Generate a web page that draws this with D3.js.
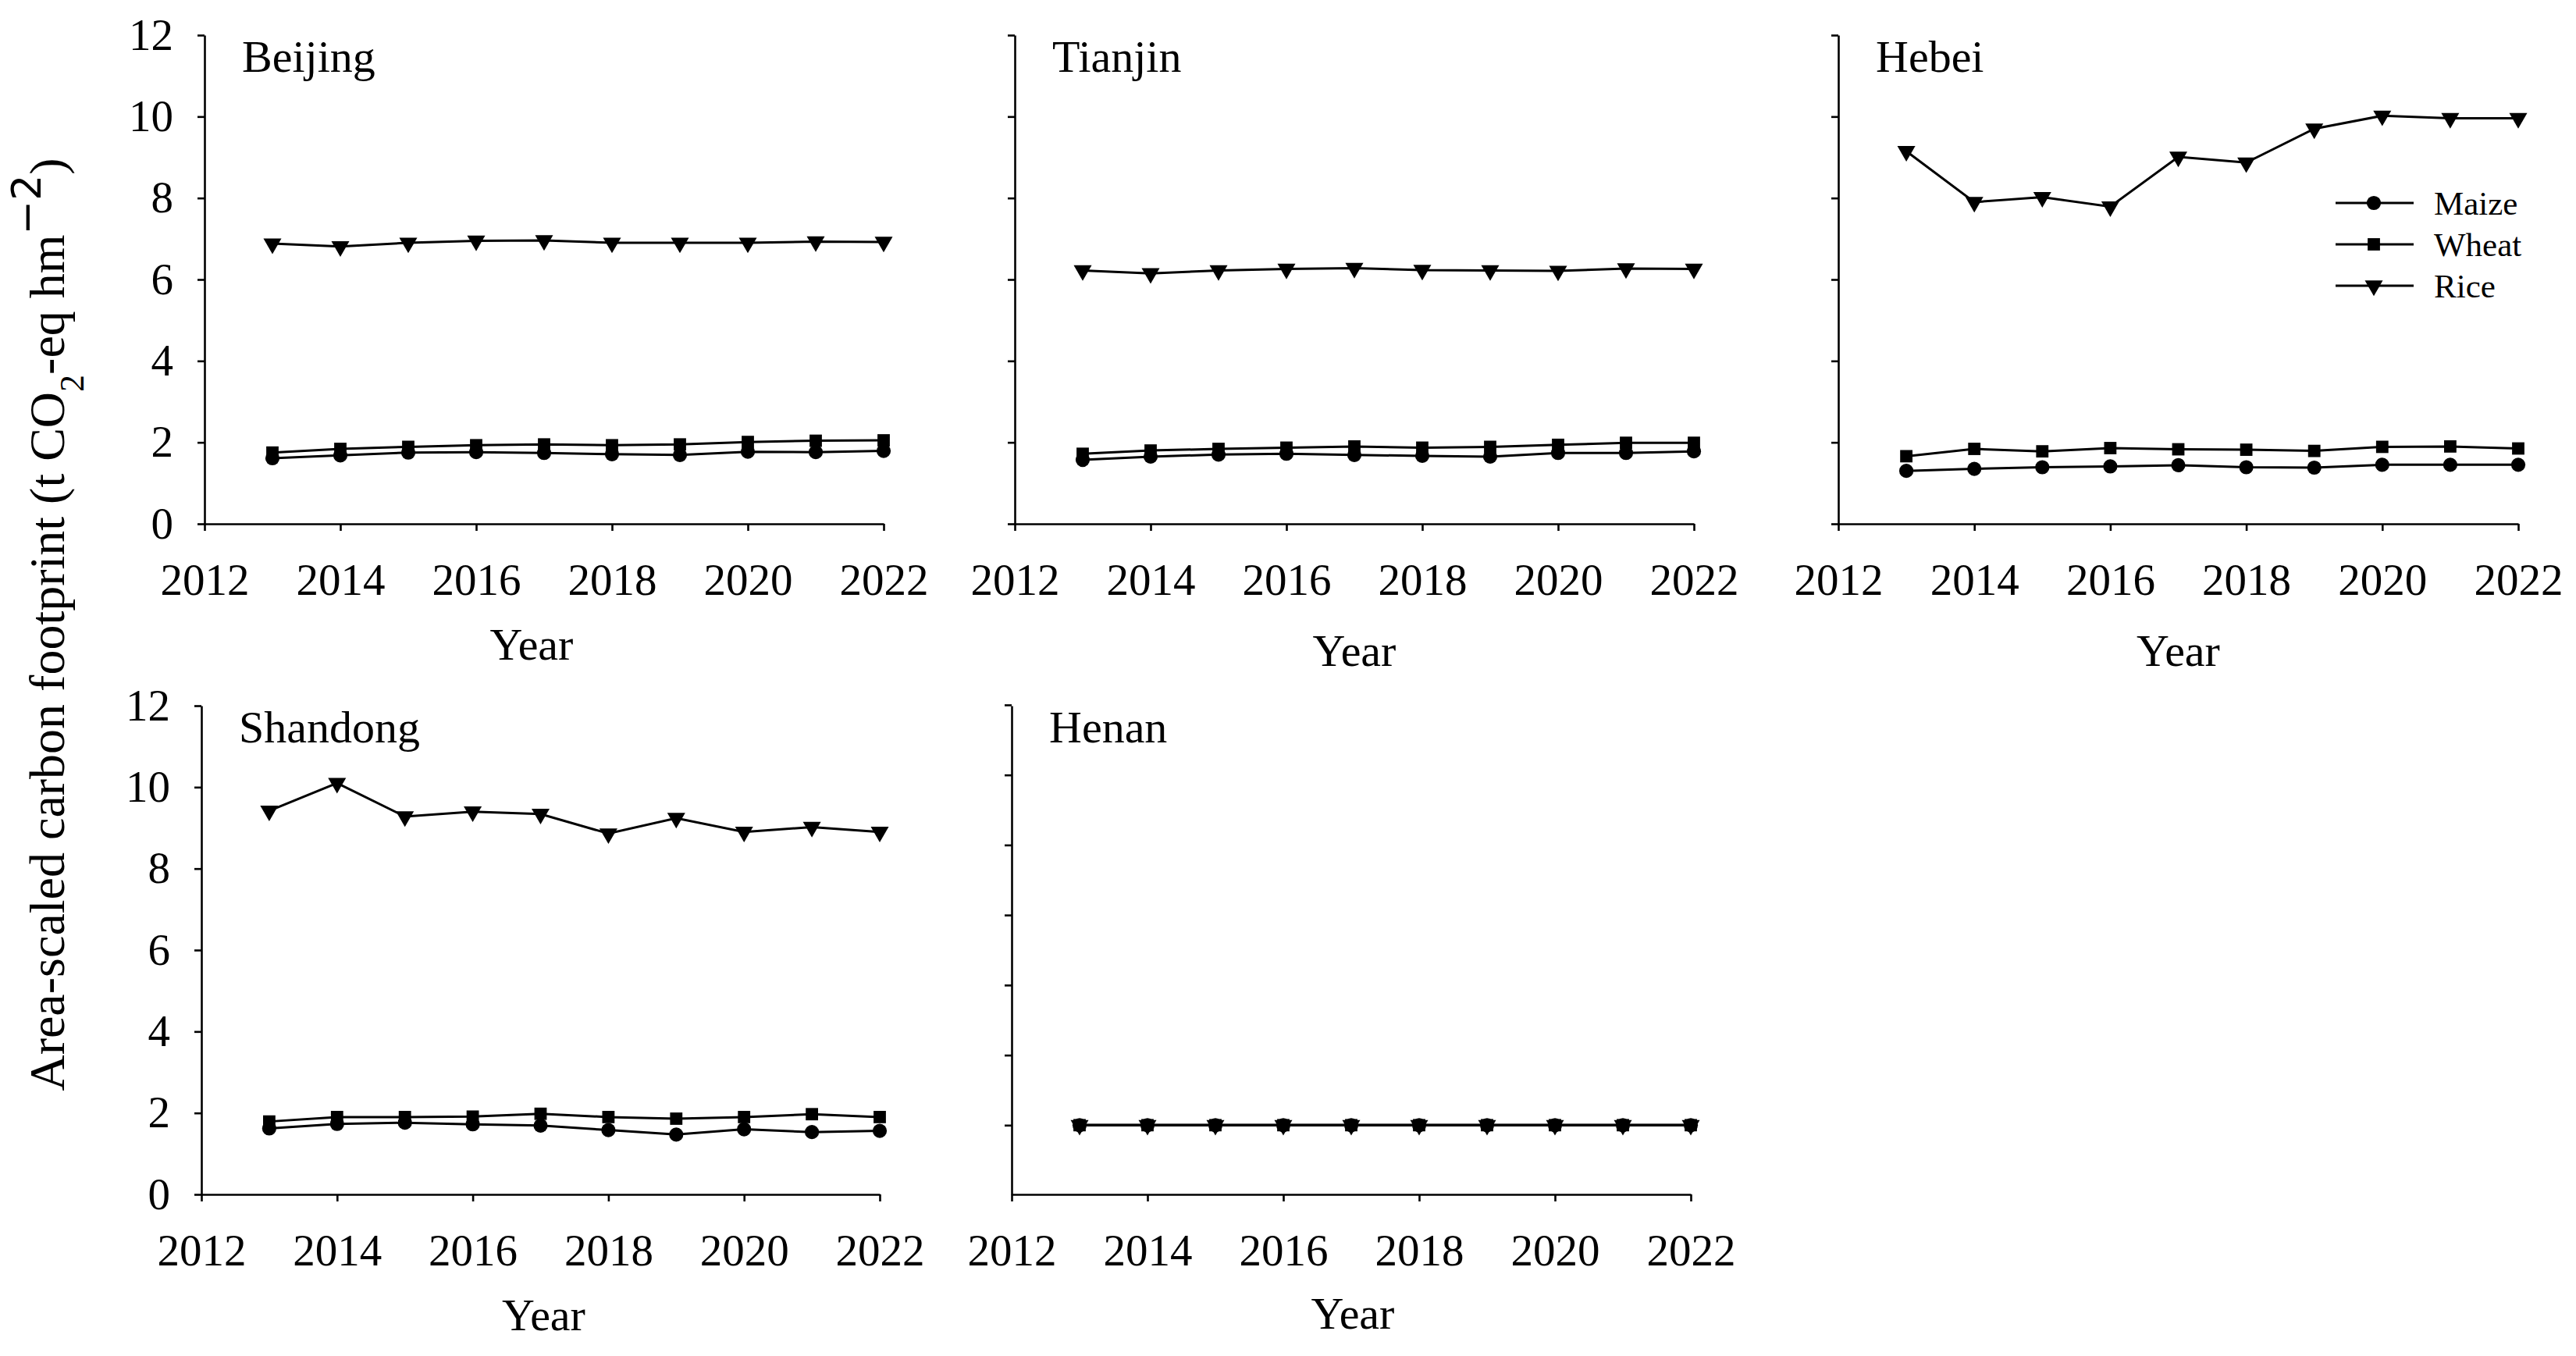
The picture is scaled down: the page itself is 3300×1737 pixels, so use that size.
<!DOCTYPE html>
<html>
<head>
<meta charset="utf-8">
<script src="https://cdn.jsdelivr.net/npm/d3@7"></script>
<style>
  body { margin: 0; background: #fff; }
  svg text { font-family: "Liberation Serif", "Times New Roman", serif; fill: #000; }
</style>
</head>
<body>
<svg id="chart"></svg>
<script>
// data
const years = [2013, 2014, 2015, 2016, 2017, 2018, 2019, 2020, 2021, 2022];
const crops = ["Maize", "Wheat", "Rice"];
const xTicks = [2012, 2014, 2016, 2018, 2020, 2022];
const yTicks = [0, 2, 4, 6, 8, 10, 12];
const henanTicks = [1.7, 3.42, 5.14, 6.86, 8.58, 10.3, 12.02];

const beijingMaize = [1.61, 1.68, 1.75, 1.76, 1.74, 1.71, 1.69, 1.77, 1.76, 1.79];
const beijingWheat = [1.75, 1.84, 1.89, 1.93, 1.95, 1.93, 1.95, 2.01, 2.04, 2.05];
const beijingRice = [6.88, 6.81, 6.90, 6.95, 6.96, 6.90, 6.90, 6.90, 6.93, 6.92];

const tianjinMaize = [1.57, 1.65, 1.70, 1.72, 1.69, 1.67, 1.65, 1.74, 1.74, 1.78];
const tianjinWheat = [1.72, 1.80, 1.84, 1.87, 1.90, 1.87, 1.89, 1.94, 1.99, 1.99];
const tianjinRice = [6.22, 6.15, 6.22, 6.26, 6.28, 6.23, 6.22, 6.21, 6.27, 6.26];

const hebeiMaize = [1.30, 1.35, 1.39, 1.41, 1.44, 1.39, 1.38, 1.45, 1.45, 1.45];
const hebeiWheat = [1.66, 1.84, 1.78, 1.86, 1.83, 1.82, 1.79, 1.89, 1.90, 1.85];
const hebeiRice = [9.15, 7.90, 8.02, 7.79, 9.01, 8.87, 9.70, 10.02, 9.96, 9.96];

const shandongMaize = [1.62, 1.73, 1.76, 1.72, 1.69, 1.58, 1.47, 1.60, 1.53, 1.56];
const shandongWheat = [1.79, 1.90, 1.90, 1.91, 1.98, 1.90, 1.86, 1.90, 1.97, 1.90];
const shandongRice = [9.42, 10.10, 9.28, 9.40, 9.34, 8.86, 9.24, 8.90, 9.02, 8.90];

const henanMaize = [1.70, 1.70, 1.70, 1.70, 1.70, 1.70, 1.70, 1.70, 1.70, 1.70];
const henanWheat = [1.70, 1.70, 1.70, 1.70, 1.70, 1.70, 1.70, 1.70, 1.70, 1.70];
const henanRice = [1.70, 1.70, 1.70, 1.70, 1.70, 1.70, 1.70, 1.70, 1.70, 1.70];

const W = 3300, H = 1737;
const FONT = "'Liberation Serif', 'Times New Roman', serif";
const svg = d3.select("#chart").attr("width", W).attr("height", H);

// panel frames
const panels = [
  { name: "Beijing",  series: [beijingMaize, beijingWheat, beijingRice],   x0: 262,  x1: 1132, top: 45,  bottom: 671,  yLabels: true,  ticks: yTicks, yearDx: -16, yearDy: 174 },
  { name: "Tianjin",  series: [tianjinMaize, tianjinWheat, tianjinRice],   x0: 1300, x1: 2170, top: 45,  bottom: 671,  yLabels: false, ticks: yTicks, yearDx: 0,   yearDy: 182 },
  { name: "Hebei",    series: [hebeiMaize, hebeiWheat, hebeiRice],         x0: 2355, x1: 3226, top: 45,  bottom: 671,  yLabels: false, ticks: yTicks, yearDx: 0,   yearDy: 182, legend: true },
  { name: "Shandong", series: [shandongMaize, shandongWheat, shandongRice], x0: 258, x1: 1127, top: 904, bottom: 1530, yLabels: true,  ticks: yTicks, yearDx: 4,   yearDy: 174 },
  { name: "Henan",    series: [henanMaize, henanWheat, henanRice],         x0: 1296, x1: 2166, top: 904, bottom: 1530, yLabels: false, ticks: henanTicks, yearDx: 2, yearDy: 172 }
];

const symbols = [d3.symbolCircle, d3.symbolSquare, d3.symbolTriangle];
const symbolSize = [260, 250, 230];

const drawMarker = (g, i, x, y) => {
  g.append("path")
    .attr("d", d3.symbol().type(symbols[i]).size(symbolSize[i]))
    .attr("transform", `translate(${x},${y})` + (i === 2 ? " rotate(180)" : ""))
    .attr("fill", "#000");
};

const serifText = (a) => {
  a.attr("font-family", null);
  a.selectAll("text").style("font-family", FONT).attr("font-size", 57).style("fill", "#000");
};

panels.forEach((p) => {
  const g = svg.append("g");
  const x = d3.scaleLinear().domain([2012, 2022]).range([p.x0, p.x1]);
  const y = d3.scaleLinear().domain([0, 12]).range([p.bottom, p.top]);

  const yAxis = d3.axisLeft(y).tickValues(p.ticks).tickSize(9).tickSizeOuter(0).tickPadding(31);
  if (!p.yLabels) yAxis.tickFormat("");
  g.append("g")
    .attr("transform", `translate(${p.x0},0)`)
    .call(yAxis)
    .call(serifText);

  g.append("g")
    .attr("transform", `translate(0,${p.bottom})`)
    .call(d3.axisBottom(x).tickValues(xTicks).tickFormat(d3.format("d")).tickSize(9).tickSizeOuter(0).tickPadding(42))
    .call(serifText);

  g.selectAll(".domain, .tick line").attr("stroke", "#000").attr("stroke-width", 2.6);

  const line = d3.line().x((d, i) => x(years[i])).y((d) => y(d));
  p.series.forEach((vals) => {
    g.append("path").datum(vals)
      .attr("d", line).attr("fill", "none")
      .attr("stroke", "#000").attr("stroke-width", 3);
  });
  p.series.forEach((vals, si) => {
    vals.forEach((v, i) => drawMarker(g, si, x(years[i]), y(v)));
  });

  g.append("text")
    .attr("x", p.x0 + 48).attr("y", p.top + 47)
    .attr("font-size", 58)
    .text(p.name);

  g.append("text")
    .attr("x", (p.x0 + p.x1) / 2 + p.yearDx).attr("y", p.bottom + p.yearDy)
    .attr("text-anchor", "middle").attr("font-size", 58)
    .text("Year");

  if (p.legend) {
    const lg = g.append("g");
    crops.forEach((c, i) => {
      const ly = 260 + i * 53;
      lg.append("line").attr("x1", 2992).attr("x2", 3092).attr("y1", ly).attr("y2", ly)
        .attr("stroke", "#000").attr("stroke-width", 3);
      drawMarker(lg, i, 3041, ly);
      lg.append("text").attr("x", 3118).attr("y", ly).attr("dy", "0.35em")
        .attr("font-size", 43).text(c);
    });
  }
});

// shared y-axis title
const yt = svg.append("text")
  .attr("transform", "translate(82,800) rotate(-90)")
  .attr("text-anchor", "middle")
  .attr("font-size", 64);
yt.append("tspan").text("Area-scaled carbon footprint (t CO");
yt.append("tspan").attr("baseline-shift", "sub").attr("font-size", 44).text("2");
yt.append("tspan").text("-eq hm");
yt.append("tspan").attr("baseline-shift", "super").attr("font-size", 52)
  .style("font-family", "'DejaVu Sans', sans-serif").text("\u22122");
yt.append("tspan").text(")");
</script>
</body>
</html>
